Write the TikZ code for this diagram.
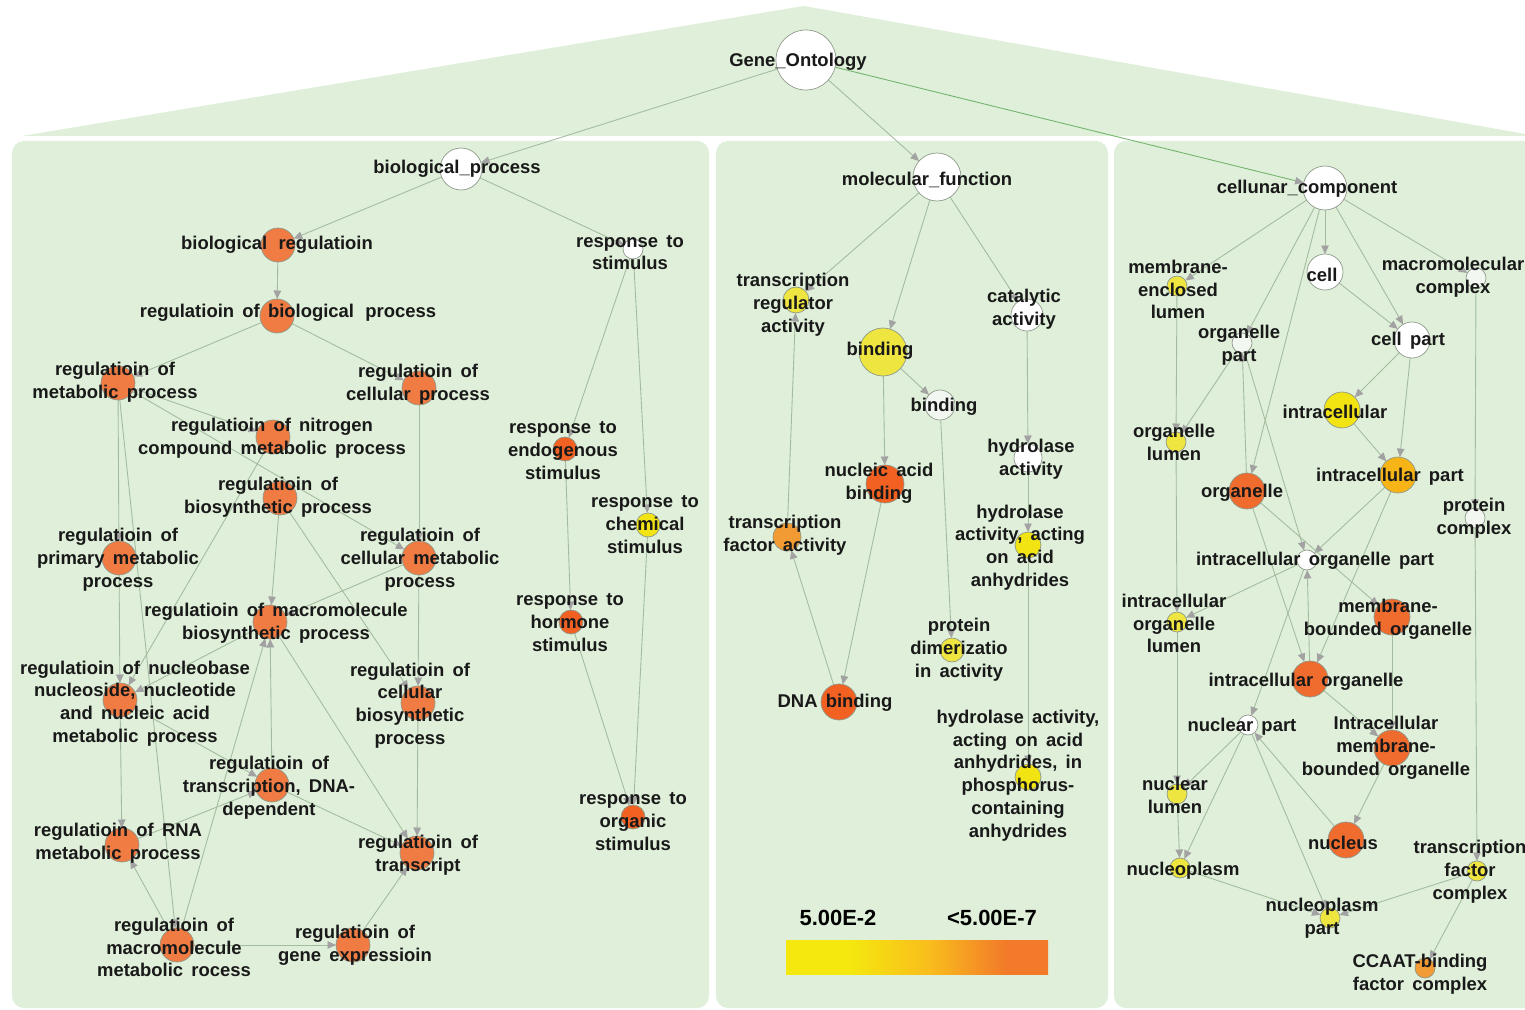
\documentclass[tikz,border=0pt]{standalone}
\usepackage{fontspec}
\setmainfont{Liberation Sans}[WordSpace=1.6]
\usetikzlibrary{arrows.meta}
\definecolor{panelgreen}{HTML}{DFEFD9}
\definecolor{edgecol}{HTML}{A3BC9F}
\definecolor{ccgreen}{HTML}{72B46C}
\definecolor{arrowcol}{HTML}{A2A2A2}
\definecolor{rimgray}{HTML}{8E998B}
\definecolor{regorange}{HTML}{F07C43}
\definecolor{hitred}{HTML}{F26122}
\definecolor{orgorange}{HTML}{F06C2E}
\definecolor{hityellow}{HTML}{F2E412}
\definecolor{paleyellow}{HTML}{EEE540}
\definecolor{amber}{HTML}{F6B416}
\definecolor{tanorange}{HTML}{F29A33}
\definecolor{offwhite}{HTML}{F3F7F1}
\definecolor{legyel}{HTML}{F4E80E}
\definecolor{legmid}{HTML}{F9BE1C}
\definecolor{legorg}{HTML}{F27A2A}
\pgfdeclarehorizontalshading{pbar}{100bp}{color(0bp)=(legyel); color(37bp)=(legyel); color(52bp)=(legmid); color(67bp)=(legorg); color(100bp)=(legorg)}
\pgfdeclarelayer{bg}
\pgfdeclarelayer{edges}
\pgfsetlayers{bg,edges,main}

\begin{document}
\begin{tikzpicture}[x=0.02cm, y=-0.02cm,
  gocirc/.style={circle, draw=rimgray, line width=0.4pt, inner sep=0pt,
    outer sep=0pt, minimum size=0.04cm*#1},
  golbl/.style={font=\fontsize{10.5}{13}\selectfont\bfseries, align=center,
    inner sep=0pt, text=black!90, yshift=-0.05cm},
  legtxt/.style={font=\fontsize{12.5}{15}\selectfont\bfseries, inner sep=0pt},
  goedge/.style={draw=edgecol, line width=0.5pt,
    -{Triangle[length=1.7mm, width=1.5mm, color=arrowcol]}}]
  \useasboundingbox (0,0) rectangle (1525,1010);

  % ── backdrop: roof and three panels ──
  \begin{pgfonlayer}{bg}
    \fill[white] (0,0) rectangle (1525,1010);
    \fill[panelgreen] (22,136) -- (804,6) -- (1525,134) -- (1525,136) -- cycle;
    \fill[panelgreen, rounded corners=0.24cm] (12,141) rectangle (709,1008);
    \fill[panelgreen, rounded corners=0.24cm] (716,141) rectangle (1108,1008);
    \fill[panelgreen, rounded corners=0.24cm] (1114,141) rectangle (1545,1008);
  \end{pgfonlayer}

  % ── root ──
  \node[gocirc=30, fill=white] (GO) at (806,60) {};
  \node[golbl] (GOL) at (798,59) {Gene\_Ontology};

  % ── biological process ──
  \node[gocirc=21, fill=white] (bp) at (461,169) {};
  \node[gocirc=17, fill=regorange] (br) at (278,245) {};
  \node[gocirc=17, fill=regorange] (rbp) at (277,316) {};
  \node[gocirc=10, fill=white] (rs) at (633,249) {};
  \node[gocirc=17, fill=regorange] (rmp) at (118,383) {};
  \node[gocirc=17, fill=regorange] (rcp) at (419,388) {};
  \node[gocirc=17, fill=regorange] (rnc) at (273,437) {};
  \node[gocirc=17, fill=regorange] (rbs) at (280,498) {};
  \node[gocirc=17, fill=regorange] (rpm) at (119,558) {};
  \node[gocirc=17, fill=regorange] (rcm) at (419,558) {};
  \node[gocirc=17, fill=regorange] (rmb) at (270,622) {};
  \node[gocirc=17, fill=regorange] (rnn) at (120,700) {};
  \node[gocirc=17, fill=regorange] (rcb) at (418,703) {};
  \node[gocirc=17, fill=regorange] (rtd) at (272,785) {};
  \node[gocirc=17, fill=regorange] (rrna) at (122,845) {};
  \node[gocirc=17, fill=regorange] (rtr) at (417,853) {};
  \node[gocirc=17, fill=regorange] (rmm) at (177,945) {};
  \node[gocirc=17, fill=regorange] (rge) at (353,945) {};
  \node[gocirc=12, fill=hitred] (rend) at (565,449) {};
  \node[gocirc=12, fill=hityellow] (rchem) at (648,525) {};
  \node[gocirc=12, fill=hitred] (rhorm) at (571,622) {};
  \node[gocirc=12, fill=hitred] (rorg) at (633,817) {};

  \node[golbl] (bpL) at (457,166) {biological\_process};
  \node[golbl] (brL) at (277,242) {biological\, regulatioin};
  \node[golbl] (rbpL) at (288,310) {regulatioin of biological\, process};
  \node[golbl] (rsL) at (630,250) {response to\\stimulus};
  \node[golbl] (rmpL) at (115,380) {regulatioin of\\metabolic process};
  \node[golbl] (rcpL) at (418,382) {regulatioin of\\cellular process};
  \node[golbl] (rncL) at (272,436) {regulatioin of nitrogen\\compound metabolic process};
  \node[golbl] (rbsL) at (278,495) {regulatioin of\\biosynthetic process};
  \node[golbl] (rpmL) at (118,557) {regulatioin of\\primary metabolic\\process};
  \node[golbl] (rcmL) at (420,557) {regulatioin of\\cellular metabolic\\process};
  \node[golbl] (rmbL) at (276,621) {regulatioin of macromolecule\\biosynthetic process};
  \node[golbl] (rnnL) at (135,701) {regulatioin of nucleobase\\nucleoside, nucleotide\\and nucleic acid\\metabolic process};
  \node[golbl] (rcbL) at (410,703) {regulatioin of\\cellular\\biosynthetic\\process};
  \node[golbl] (rtdL) at (269,785) {regulatioin of\\transcription, DNA-\\dependent};
  \node[golbl] (rrnaL) at (118,841) {regulatioin of RNA\\metabolic process};
  \node[golbl] (rtrL) at (418,853) {regulatioin of\\transcript};
  \node[golbl] (rmmL) at (174,945) {regulatioin of\\macromolecule\\metabolic rocess};
  \node[golbl] (rgeL) at (355,943) {regulatioin of\\gene expressioin};
  \node[golbl] (rendL) at (563,448) {response to\\endogenous\\stimulus};
  \node[golbl] (rchemL) at (645,522) {response to\\chemical\\stimulus};
  \node[golbl] (rhormL) at (570,620) {response to\\hormone\\stimulus};
  \node[golbl] (rorgL) at (633,819) {response to\\organic\\stimulus};

  % ── molecular function ──
  \node[gocirc=24, fill=white] (mf) at (937,177) {};
  \node[gocirc=13, fill=paleyellow] (tra) at (796,300) {};
  \node[gocirc=16, fill=white] (cat) at (1027,315) {};
  \node[gocirc=24, fill=paleyellow] (bind) at (883,352) {};
  \node[gocirc=15, fill=offwhite] (bindb) at (940,405) {};
  \node[gocirc=19, fill=hitred] (nab) at (885,484) {};
  \node[gocirc=14, fill=white] (hyd) at (1028,458) {};
  \node[gocirc=14, fill=tanorange] (tfa) at (787,537) {};
  \node[gocirc=13, fill=hityellow] (hyda) at (1028,545) {};
  \node[gocirc=12, fill=paleyellow] (pda) at (952,650) {};
  \node[gocirc=18, fill=hitred] (dna) at (839,702) {};
  \node[gocirc=13, fill=hityellow] (hydp) at (1028,777) {};

  \node[golbl] (mfL) at (927,177) {molecular\_function};
  \node[golbl] (traL) at (793,302) {transcription\\regulator\\activity};
  \node[golbl] (catL) at (1024,307) {catalytic\\activity};
  \node[golbl] (bindL) at (880,348) {binding};
  \node[golbl] (bindbL) at (944,404) {binding};
  \node[golbl] (nabL) at (879,481) {nucleic acid\\binding};
  \node[golbl] (hydL) at (1031,457) {hydrolase\\activity};
  \node[golbl] (tfaL) at (785,533) {transcription\\factor activity};
  \node[golbl] (hydaL) at (1020,545) {hydrolase\\activity, acting\\on acid\\anhydrides};
  \node[golbl] (pdaL) at (959,647) {protein\\dimerizatio\\in activity};
  \node[golbl] (dnaL) at (835,700) {DNA binding};
  \node[golbl] (hydpL) at (1018,773) {hydrolase activity,\\acting on acid\\anhydrides, in\\phosphorus-\\containing\\anhydrides};

  % p-value legend
  \shade[shading=pbar] (786,940) rectangle (1048,974);
  \node[legtxt] (legLo) at (838,918) {5.00E-2};
  \node[legtxt] (legHi) at (992,918) {<5.00E-7};

  % ── cellular component ──
  \node[gocirc=22, fill=white] (cc) at (1325,188) {};
  \node[gocirc=10, fill=paleyellow] (mel) at (1177,286) {};
  \node[gocirc=18, fill=white] (cell) at (1325,272) {};
  \node[gocirc=10, fill=offwhite] (mac) at (1476,278) {};
  \node[gocirc=10, fill=offwhite] (op) at (1242,343) {};
  \node[gocirc=18, fill=white] (cp) at (1412,340) {};
  \node[gocirc=18, fill=hityellow] (ic) at (1342,410) {};
  \node[gocirc=10, fill=paleyellow] (ol) at (1176,442) {};
  \node[gocirc=18, fill=amber] (icp) at (1398,475) {};
  \node[gocirc=18, fill=orgorange] (org) at (1247,491) {};
  \node[gocirc=10, fill=offwhite] (pc) at (1475,518) {};
  \node[gocirc=10, fill=white] (iop) at (1307,560) {};
  \node[gocirc=10, fill=paleyellow] (iol) at (1177,622) {};
  \node[gocirc=18, fill=orgorange] (mbo) at (1392,617) {};
  \node[gocirc=18, fill=orgorange] (io) at (1310,679) {};
  \node[gocirc=10, fill=white] (np) at (1248,725) {};
  \node[gocirc=18, fill=orgorange] (imbo) at (1392,748) {};
  \node[gocirc=10, fill=paleyellow] (nl) at (1177,794) {};
  \node[gocirc=18, fill=orgorange] (nuc) at (1346,840) {};
  \node[gocirc=10, fill=paleyellow] (tfc) at (1477,871) {};
  \node[gocirc=10, fill=paleyellow] (nplasm) at (1180,868) {};
  \node[gocirc=10, fill=paleyellow] (npp) at (1330,918) {};
  \node[gocirc=10, fill=tanorange] (ccaat) at (1425,968) {};

  \node[golbl] (ccL) at (1307,186) {cellunar\_component};
  \node[golbl] (melL) at (1178,287) {membrane-\\enclosed\\lumen};
  \node[golbl] (cellL) at (1322,272) {cell};
  \node[golbl] (macL) at (1453,275) {macromolecular\\complex};
  \node[golbl] (opL) at (1239,343) {organelle\\part};
  \node[golbl] (cpL) at (1408,338) {cell part};
  \node[golbl] (icL) at (1335,409) {intracellular};
  \node[golbl] (olL) at (1174,440) {organelle\\lumen};
  \node[golbl] (icpL) at (1390,474) {intracellular part};
  \node[golbl] (orgL) at (1242,490) {organelle};
  \node[golbl] (pcL) at (1474,516) {protein\\complex};
  \node[golbl] (iopL) at (1315,558) {intracellular organelle part};
  \node[golbl] (iolL) at (1174,621) {intracellular\\organelle\\lumen};
  \node[golbl] (mboL) at (1388,617) {membrane-\\bounded organelle};
  \node[golbl] (ioL) at (1306,679) {intracellular organelle};
  \node[golbl] (npL) at (1242,724) {nuclear part};
  \node[golbl] (imboL) at (1386,745) {Intracellular\\membrane-\\bounded organelle};
  \node[golbl] (nlL) at (1175,793) {nuclear\\lumen};
  \node[golbl] (nucL) at (1343,840) {nucleus};
  \node[golbl] (tfcL) at (1470,869) {transcription\\factor\\complex};
  \node[golbl] (nplasmL) at (1183,868) {nucleoplasm};
  \node[golbl] (nppL) at (1322,916) {nucleoplasm\\part};
  \node[golbl] (ccaatL) at (1420,972) {CCAAT-binding\\factor complex};

  % ── connectors ──
  \begin{pgfonlayer}{edges}
    \draw[goedge] (GO) -- (bp);
    \draw[goedge] (GO) -- (mf);
    \draw[goedge, draw=ccgreen] (GO) -- (cc);
    % biological process
    \draw[goedge] (bp) -- (br);
    \draw[goedge] (bp) -- (rs);
    \draw[goedge] (br) -- (rbp);
    \draw[goedge] (rbp) -- (rmp);
    \draw[goedge] (rbp) -- (rcp);
    \draw[goedge] (rmp) -- (rnc);
    \draw[goedge] (rmp) -- (rcm);
    \draw[goedge] (rmp) -- (rpm);
    \draw[goedge] (rmp) -- (rmm);
    \draw[goedge] (rnc) -- (rnn);
    \draw[goedge] (rbs) -- (rmb);
    \draw[goedge] (rbs) -- (rcb);
    \draw[goedge] (rcp) -- (rcm);
    \draw[goedge] (rcm) -- (rcb);
    \draw[goedge] (rcm) -- (rmb);
    \draw[goedge] (rcb) -- (rtr);
    \draw[goedge] (rpm) -- (rnn);
    \draw[goedge] (rnn) -- (rrna);
    \draw[goedge] (rnn) -- (rtd);
    \draw[goedge] (rrna) -- (rtd);
    \draw[goedge] (rtd) -- (rmb);
    \draw[goedge] (rtd) -- (rtr);
    \draw[goedge] (rmb) -- (rtr);
    \draw[goedge] (rmb) -- (rnn);
    \draw[goedge] (rmm) -- (rrna);
    \draw[goedge] (rmm) -- (rmb);
    \draw[goedge] (rmm) -- (rge);
    \draw[goedge] (rge) -- (rtr);
    \draw[goedge] (rs) -- (rend);
    \draw[goedge] (rs) -- (rchem);
    \draw[goedge] (rend) -- (rhorm);
    \draw[goedge] (rhorm) -- (rorg);
    \draw[goedge] (rchem) -- (rorg);
    % molecular function
    \draw[goedge] (mf) -- (tra);
    \draw[goedge] (mf) -- (bind);
    \draw[goedge] (mf) -- (cat);
    \draw[goedge] (bind) -- (bindb);
    \draw[goedge] (bind) -- (nab);
    \draw[goedge] (cat) -- (hyd);
    \draw[goedge] (hyd) -- (hyda);
    \draw[goedge] (hyda) -- (hydp);
    \draw[goedge] (nab) -- (dna);
    \draw[goedge] (dna) -- (tfa);
    \draw[goedge] (tfa) -- (tra);
    \draw[goedge] (bindb) -- (pda);
    % cellular component
    \draw[goedge] (cc) -- (mel);
    \draw[goedge] (cc) -- (op);
    \draw[goedge] (cc) -- (org);
    \draw[goedge] (cc) -- (cell);
    \draw[goedge] (cc) -- (cp);
    \draw[goedge] (cc) -- (mac);
    \draw[goedge] (cell) -- (cp);
    \draw[goedge] (cp) -- (ic);
    \draw[goedge] (cp) -- (icp);
    \draw[goedge] (ic) -- (icp);
    \draw[goedge] (org) -- (op);
    \draw[goedge] (op) -- (ol);
    \draw[goedge] (op) -- (iop);
    \draw[goedge] (mel) -- (ol);
    \draw[goedge] (ol) -- (iol);
    \draw[goedge] (iol) -- (nl);
    \draw[goedge] (nl) -- (nplasm);
    \draw[goedge] (icp) -- (iop);
    \draw[goedge] (icp) -- (io);
    \draw[goedge] (org) -- (mbo);
    \draw[goedge] (org) -- (io);
    \draw[goedge] (io) -- (iop);
    \draw[goedge] (iop) -- (iol);
    \draw[goedge] (iop) -- (np);
    \draw[goedge] (mbo) -- (imbo);
    \draw[goedge] (io) -- (imbo);
    \draw[goedge] (imbo) -- (nuc);
    \draw[goedge] (nuc) -- (np);
    \draw[goedge] (np) -- (nl);
    \draw[goedge] (np) -- (nplasm);
    \draw[goedge] (np) -- (npp);
    \draw[goedge] (nplasm) -- (npp);
    \draw[goedge] (tfc) -- (npp);
    \draw[goedge] (mac) -- (pc);
    \draw[goedge] (pc) -- (tfc);
    \draw[goedge] (tfc) -- (ccaat);
  \end{pgfonlayer}
\end{tikzpicture}
\end{document}
